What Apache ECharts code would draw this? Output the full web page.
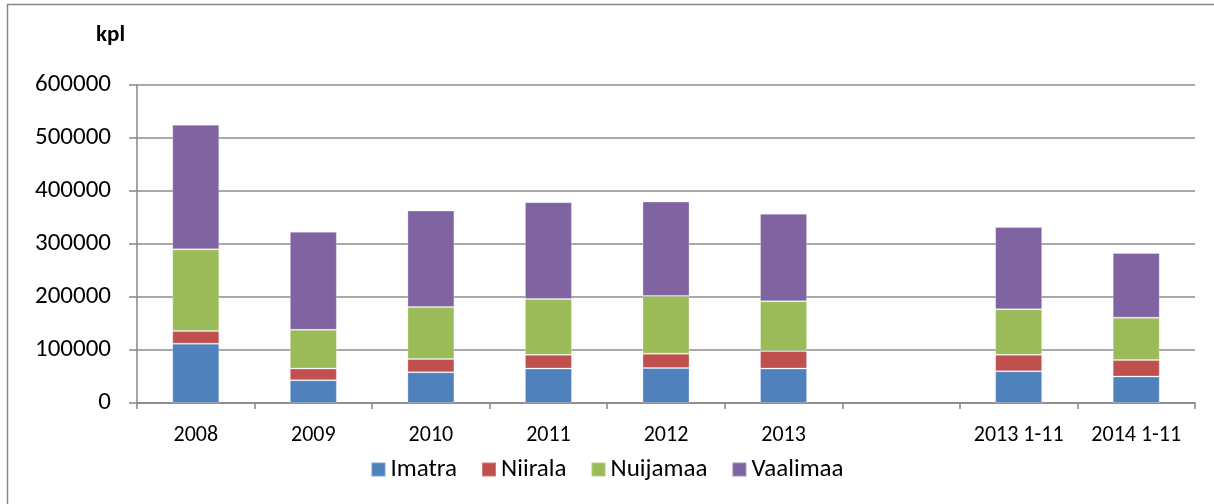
<!DOCTYPE html>
<html>
<head>
<meta charset="utf-8">
<script src="https://cdn.jsdelivr.net/npm/echarts@6/dist/echarts.min.js"></script>
<style>
  html, body { margin: 0; padding: 0; background: #fff; }
  #app { width: 1214px; height: 504px; }
</style>
</head>
<body>
<div id="app"></div>
<script>
const categories = ['2008', '2009', '2010', '2011', '2012', '2013', '', '2013 1-11', '2014 1-11'];
const imatra   = [112000, 43000, 58000, 65000, 66000, 65000, null, 60000, 50000];
const niirala  = [24000, 22000, 25000, 26000, 27000, 33000, null, 31000, 31000];
const nuijamaa = [154000, 73000, 98000, 105000, 109000, 94000, null, 86000, 80000];
const vaalimaa = [235000, 185000, 182000, 183000, 178000, 165000, null, 155000, 122000];

const FONT = 'Carlito, Lato, sans-serif';
const myChart = echarts.init(document.getElementById('app'));

const bar = (name, data, color) => ({
  name,
  type: 'bar',
  stack: 'total',
  barWidth: '40%',
  data,
  itemStyle: {
    color,
    borderColor: 'rgba(255,255,255,0.25)',
    borderWidth: 1
  }
});

const option = {
  animation: false,
  textStyle: { fontFamily: FONT },
  graphic: [
    {
      type: 'rect',
      shape: { x: 7.5, y: 4.5, width: 1300, height: 600 },
      style: { fill: 'none', stroke: '#878787', lineWidth: 1.5 },
      silent: true
    },
    {
      type: 'text',
      left: 96,
      top: 24,
      style: { text: 'kpl', font: 'bold 23px ' + FONT, fill: '#000' }
    }
  ],
  grid: { left: 137, right: 19, top: 85, bottom: 101 },
  legend: {
    data: ['Imatra', 'Niirala', 'Nuijamaa', 'Vaalimaa'],
    left: 'center',
    top: 452,
    itemWidth: 14,
    itemHeight: 14,
    itemGap: 24,
    icon: 'rect',
    textStyle: { fontSize: 25, color: '#000', fontFamily: FONT }
  },
  xAxis: {
    type: 'category',
    data: categories,
    axisLine: { lineStyle: { color: '#868686', width: 1.5 } },
    axisTick: { show: true, interval: 0, length: 6, lineStyle: { color: '#868686', width: 1.5 } },
    axisLabel: { interval: 0, margin: 21, fontSize: 22, color: '#000', fontFamily: FONT }
  },
  yAxis: {
    type: 'value',
    min: 0,
    max: 600000,
    interval: 100000,
    axisLine: { show: true, lineStyle: { color: '#868686', width: 1.5 } },
    axisTick: { show: true, inside: false, length: 8, lineStyle: { color: '#868686', width: 1.5 } },
    axisLabel: { margin: 26, fontSize: 25, color: '#000', fontFamily: FONT, formatter: v => String(v) },
    splitLine: { lineStyle: { color: '#8c8c8c', width: 1.5 } }
  },
  series: [
    bar('Imatra', imatra, '#4F81BD'),
    bar('Niirala', niirala, '#C0504D'),
    bar('Nuijamaa', nuijamaa, '#9BBB59'),
    bar('Vaalimaa', vaalimaa, '#8064A2')
  ]
};

myChart.setOption(option);
</script>
</body>
</html>
